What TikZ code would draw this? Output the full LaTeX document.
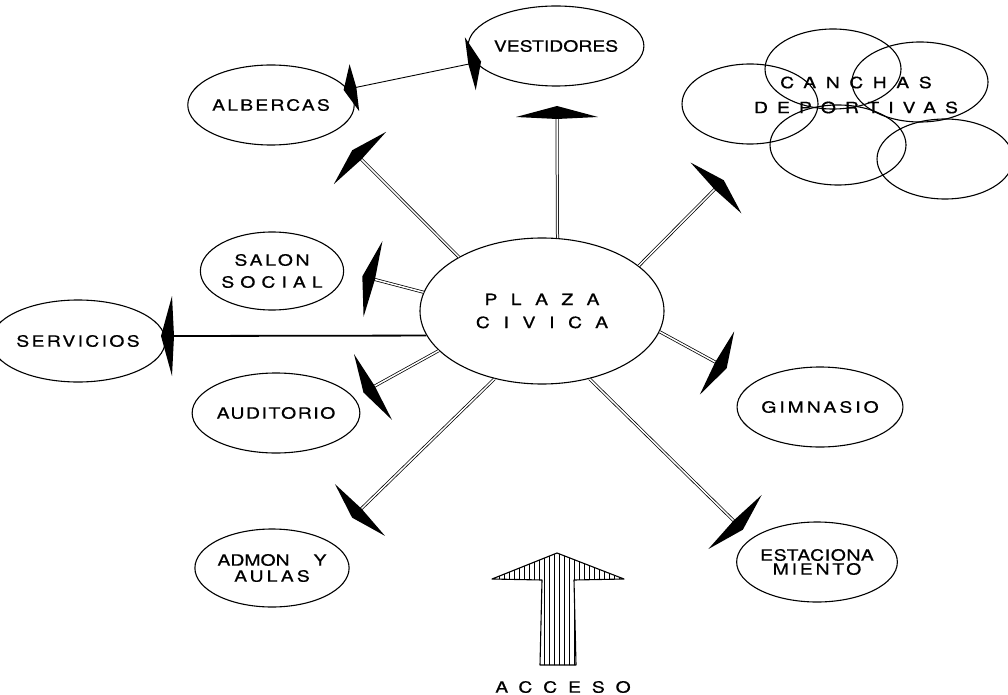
\documentclass[tikz,border=0pt]{standalone}
\usepackage{fontspec}
\setmainfont[FakeStretch=1.25, FakeBold=0.6]{TeX Gyre Heros}
\usetikzlibrary{shapes.geometric}
\newcommand{\ls}[2]{{\addfontfeature{LetterSpace=#1}#2}}

\begin{document}
\begin{tikzpicture}[x=1pt,y=-1pt,
  lbl/.style={font=\fontsize{15.5}{17}\selectfont, align=center, inner sep=0pt},
  zona/.style={lbl, draw, ellipse, line width=1.1pt, minimum width=137pt, minimum height=80pt},
  spoke/.style={draw, double, double distance=1.5pt, line width=0.75pt},
  link/.style={draw, line width=0.9pt},
  barb/.pic={\fill (-2,0) -- (0,-#1) -- (11,0) -- (0,#1) -- cycle;}]
\useasboundingbox (0,0) rectangle (1008,695);
\node[zona, minimum width=244pt, minimum height=146pt] (plaza) at (542,311) {\ls{86}{PLAZA}\\[6pt]\ls{88}{CIVICA}};
\node[zona, minimum width=128pt] (vest) at (556,46) {VESTIDORES};
\node[zona] (alb) at (271,105) {\ls{14}{ALBERCAS}};
\node[zona, minimum height=78pt] (salon) at (272,271) {\ls{17}{SALON}\\[5pt]\ls{39}{SOCIAL}};
\node[zona, minimum width=138pt, minimum height=82pt] (serv) at (78,341) {\ls{15}{SERVICIOS}};
\node[zona] (aud) at (276,413) {\ls{10}{AUDITORIO}};
\node[zona, minimum height=78pt] (admon) at (272,568) {ADMON\hspace{24pt}Y\\[-1pt]\ls{20}{AULAS}};
\node[zona, minimum width=140pt] (gim) at (820,407) {\ls{19}{GIMNASIO}};
\node[zona] (estac) at (817,562) {\ls{4}{ESTACIONA}\\[-3pt]\ls{18}{MIENTO}};
\foreach \cx/\cy in {750/104, 833/69, 920/82, 838/145, 945/159}
  \draw[line width=1.1pt] (\cx,\cy) ellipse [x radius=68pt, y radius=40pt];
\node[lbl] (canchas) at (856,95) {\ls{62}{CANCHAS}\\[8pt]\ls{58}{DEPORTIVAS}};
\coordinate (b1) at (360,158); \coordinate (b2) at (557,117); \coordinate (b3) at (716,188);
\coordinate (b4) at (373,279); \coordinate (b5) at (172,336); \coordinate (b6) at (373,387);
\coordinate (b7) at (360,510); \coordinate (b8) at (717,363); \coordinate (b9) at (735,522);
\draw[spoke] (plaza.147) -- (b1); \draw[spoke] (plaza.78) -- (b2); \draw[spoke] (plaza.25) -- (b3);
\draw[spoke] (plaza.171) -- (b4); \draw[line width=1.8pt] (plaza.192) -- (b5); \draw[spoke] (plaza.201) -- (b6);
\draw[spoke] (plaza.235) -- (b7); \draw[spoke] (plaza.350) -- (b8); \draw[spoke] (plaza.305) -- (b9);
\pic[rotate=135] at (b1) {barb=37}; \pic[rotate=90] at (b2) {barb=41}; \pic[rotate=45] at (b3) {barb=36};
\pic[rotate=166] at (b4) {barb=39}; \pic[rotate=180] at (b5) {barb=40}; \pic[rotate=210] at (b6) {barb=38};
\pic[rotate=224] at (b7) {barb=36}; \pic[rotate=-28.5] at (b8) {barb=36}; \pic[rotate=-44.6] at (b9) {barb=38};
\draw[link] (alb) -- (vest) coordinate[pos=0.05] (la) coordinate[pos=0.96] (lv);
\pic[rotate=191.6] at (la) {barb=24}; \pic[rotate=11.6] at (lv) {barb=27};
\begin{scope}
\clip (492,579) -- (557,553) -- (624,579) -- (574,580) -- (576,665) -- (540,665) -- (542,580) -- cycle;
\foreach \hx in {494,499,...,624} \draw[line width=0.7pt] (\hx,545) -- (\hx,670);
\end{scope}
\draw[line width=1.1pt, line join=round] (492,579) -- (557,553) -- (624,579) -- (574,580) -- (576,665) -- (540,665) -- (542,580) -- cycle;
\node[lbl] (acceso) at (563,687) {\ls{70}{ACCESO}};
\end{tikzpicture}
\end{document}
